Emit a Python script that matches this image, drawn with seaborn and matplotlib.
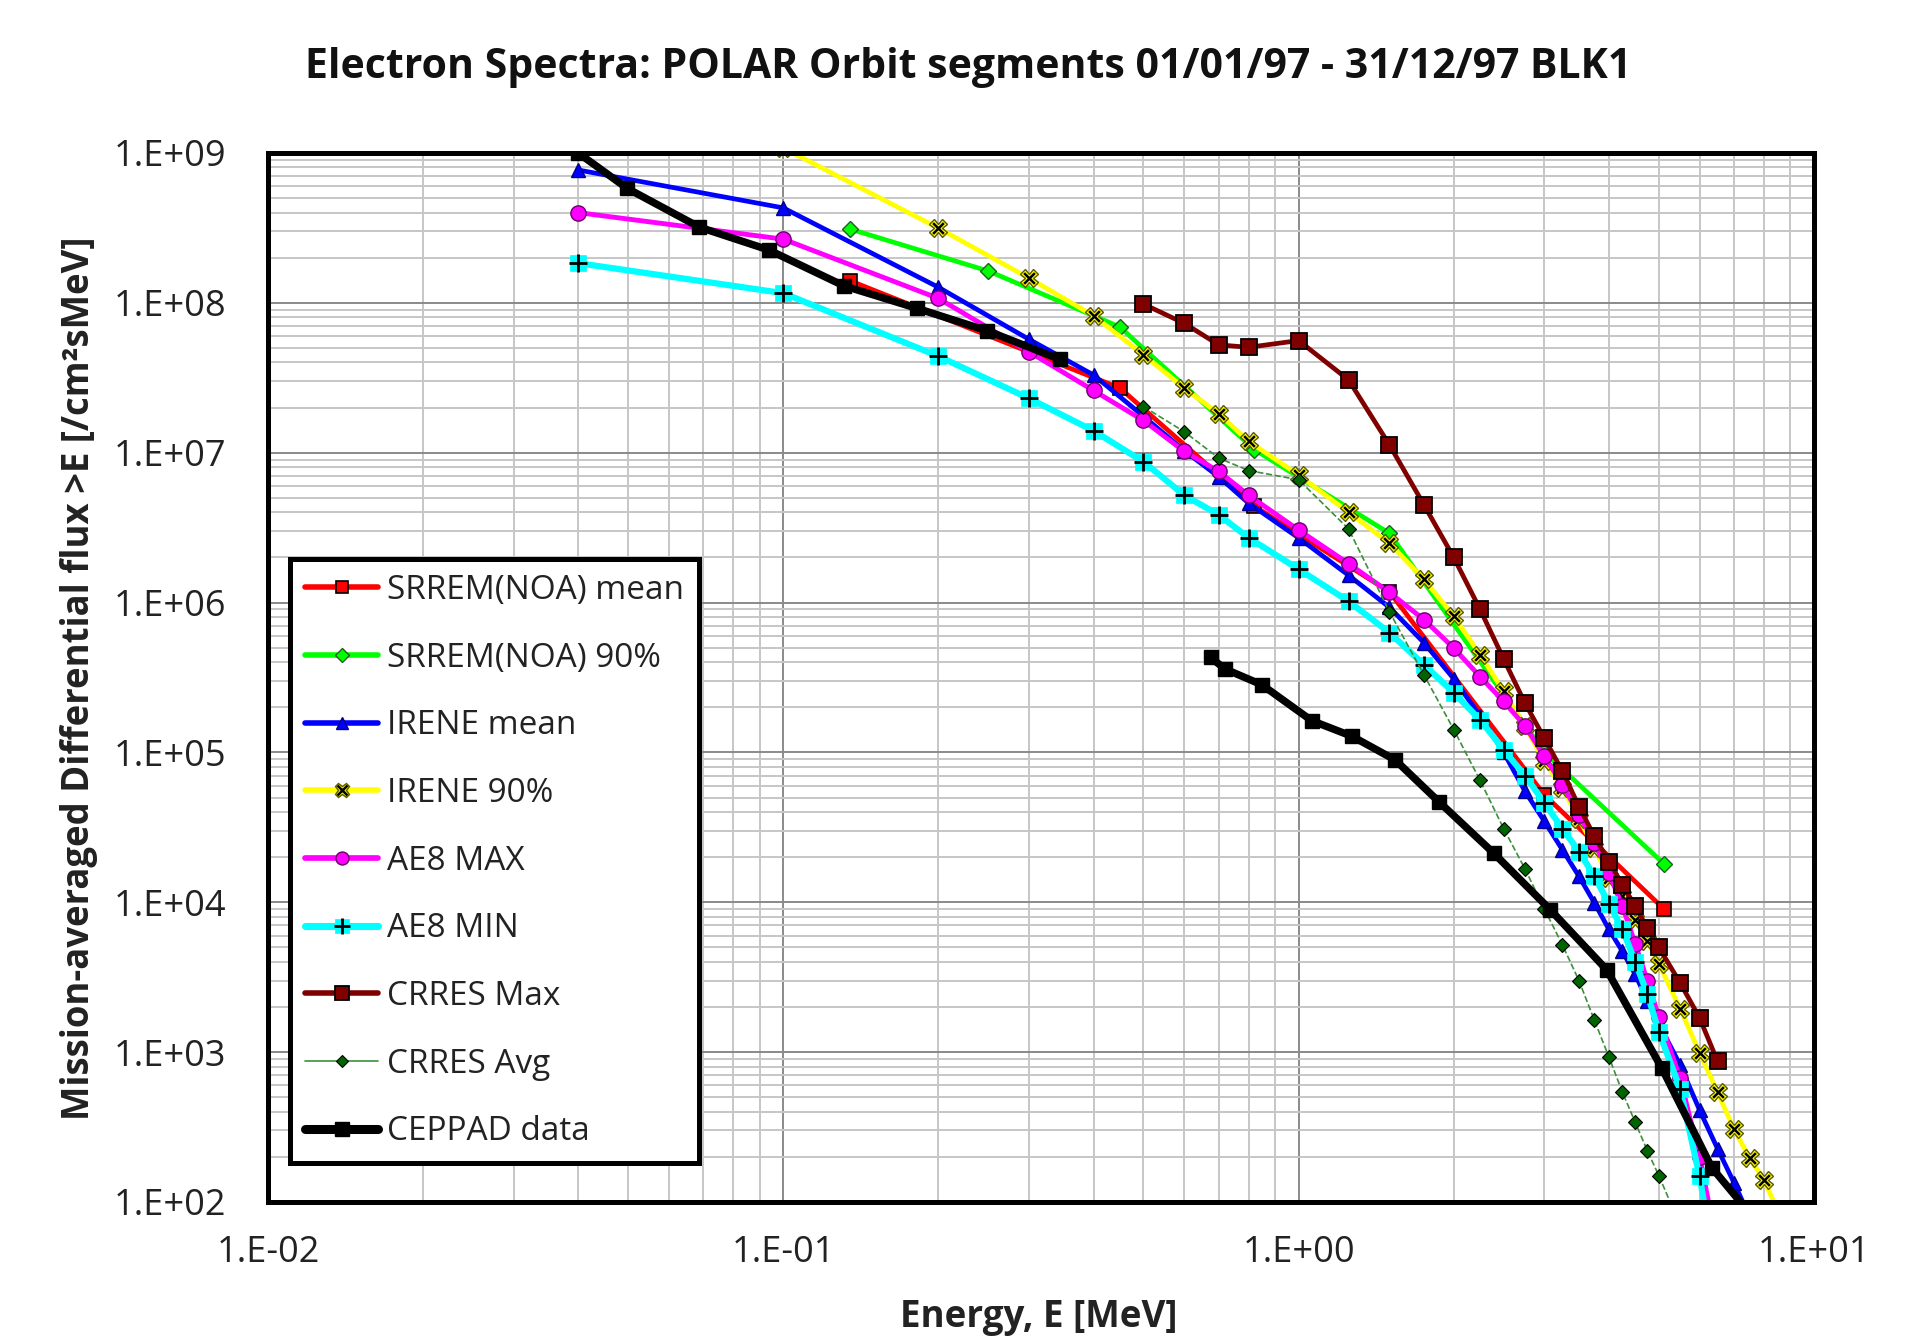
import numpy as np
import matplotlib
matplotlib.use("Agg")
import matplotlib.pyplot as plt
import seaborn as sns
from matplotlib.lines import Line2D
from matplotlib.ticker import LogLocator, FuncFormatter, NullFormatter

# ---------------- data ----------------
title = "Electron Spectra: POLAR Orbit segments 01/01/97 - 31/12/97 BLK1"
xlabel = "Energy, E [MeV]"
ylabel = "Mission-averaged Differential flux >E [/cm\u00b2sMeV]"

labels = ["SRREM(NOA) mean", "SRREM(NOA) 90%", "IRENE mean", "IRENE 90%",
          "AE8 MAX", "AE8 MIN", "CRRES Max", "CRRES Avg", "CEPPAD data"]

srrem_mean_E = [0.135, 0.45, 0.82, 1.5, 3.0, 5.12]
srrem_mean_F = [1.4e8, 2.7e7, 4.4e6, 1.18e6, 5.2e4, 9.0e3]

srrem_90_E = [0.135, 0.25, 0.45, 0.82, 1.5, 3.0, 5.12]
srrem_90_F = [3.1e8, 1.63e8, 6.9e7, 1.05e7, 2.9e6, 1.0e5, 1.8e4]

irene_mean_E = [0.04, 0.1, 0.2, 0.3, 0.4, 0.5, 0.6, 0.7, 0.8, 1.0, 1.25, 1.5, 1.75,
                2.0, 2.25, 2.5, 2.75, 3.0, 3.25, 3.5, 3.75, 4.0, 4.25, 4.5, 4.75,
                5.0, 5.5, 6.0, 6.5, 7.0, 7.5]
irene_mean_F = [7.7e8, 4.3e8, 1.27e8, 5.7e7, 3.3e7, 1.75e7, 1.03e7, 6.9e6, 4.6e6,
                2.7e6, 1.52e6, 9.3e5, 5.4e5, 3.1e5, 1.75e5, 1.0e5, 5.5e4, 3.46e4,
                2.24e4, 1.49e4, 9.9e3, 6.6e3, 4.7e3, 3.3e3, 2.2e3, 1.55e3, 8.2e2,
                4.1e2, 2.27e2, 1.34e2, 8.0e1]

irene_90_E = [0.1, 0.2, 0.3, 0.4, 0.5, 0.6, 0.7, 0.8, 1.0, 1.25, 1.5, 1.75, 2.0,
              2.25, 2.5, 2.75, 3.0, 3.25, 3.5, 3.75, 4.0, 4.25, 4.5, 4.75, 5.0,
              5.5, 6.0, 6.5, 7.0, 7.5, 8.0, 8.5]
irene_90_F = [1.08e9, 3.15e8, 1.46e8, 8.2e7, 4.5e7, 2.7e7, 1.82e7, 1.19e7, 7.1e6,
              4.0e6, 2.49e6, 1.43e6, 8.1e5, 4.5e5, 2.55e5, 1.49e5, 8.7e4, 5.8e4,
              3.6e4, 2.3e4, 1.45e4, 1.1e4, 7.6e3, 5.5e3, 3.9e3, 1.95e3, 9.9e2,
              5.4e2, 3.05e2, 1.97e2, 1.4e2, 8.8e1]

ae8_max_E = [0.04, 0.1, 0.2, 0.3, 0.4, 0.5, 0.6, 0.7, 0.8, 1.0, 1.25, 1.5, 1.75,
             2.0, 2.25, 2.5, 2.75, 3.0, 3.25, 3.5, 3.75, 4.0, 4.25, 4.5, 4.75,
             5.0, 5.5, 6.0, 6.5]
ae8_max_F = [4.0e8, 2.66e8, 1.07e8, 4.7e7, 2.6e7, 1.64e7, 1.02e7, 7.5e6, 5.2e6,
             3.05e6, 1.82e6, 1.17e6, 7.7e5, 4.97e5, 3.2e5, 2.19e5, 1.5e5, 9.4e4,
             6.1e4, 3.85e4, 2.5e4, 1.57e4, 9.4e3, 5.3e3, 3.0e3, 1.72e3, 6.7e2,
             2.0e2, 5.0e1]

ae8_min_E = [0.04, 0.1, 0.2, 0.3, 0.4, 0.5, 0.6, 0.7, 0.8, 1.0, 1.25, 1.5, 1.75,
             2.0, 2.25, 2.5, 2.75, 3.0, 3.25, 3.5, 3.75, 4.0, 4.25, 4.5, 4.75,
             5.0, 5.5, 6.0, 6.5]
ae8_min_F = [1.84e8, 1.16e8, 4.4e7, 2.3e7, 1.4e7, 8.7e6, 5.2e6, 3.85e6, 2.7e6,
             1.67e6, 1.02e6, 6.3e5, 3.85e5, 2.5e5, 1.65e5, 1.04e5, 7.0e4, 4.6e4,
             3.1e4, 2.18e4, 1.49e4, 9.8e3, 6.6e3, 4.0e3, 2.45e3, 1.37e3, 5.7e2,
             1.48e2, 3.0e1]

crres_max_E = [0.5, 0.6, 0.7, 0.8, 1.0, 1.25, 1.5, 1.75, 2.0, 2.25, 2.5, 2.75,
               3.0, 3.25, 3.5, 3.75, 4.0, 4.25, 4.5, 4.75, 5.0, 5.5, 6.0, 6.5]
crres_max_F = [9.8e7, 7.3e7, 5.24e7, 5.05e7, 5.6e7, 3.06e7, 1.13e7, 4.5e6, 2.0e6,
               9.0e5, 4.2e5, 2.13e5, 1.24e5, 7.5e4, 4.35e4, 2.75e4, 1.87e4,
               1.31e4, 9.4e3, 6.7e3, 5.0e3, 2.9e3, 1.69e3, 8.7e2]

crres_avg_E = [0.5, 0.6, 0.7, 0.8, 1.0, 1.25, 1.5, 1.75, 2.0, 2.25, 2.5, 2.75,
               3.0, 3.25, 3.5, 3.75, 4.0, 4.25, 4.5, 4.75, 5.0, 5.5]
crres_avg_F = [2.03e7, 1.38e7, 9.2e6, 7.6e6, 6.6e6, 3.1e6, 8.7e5, 3.3e5, 1.42e5,
               6.5e4, 3.1e4, 1.67e4, 9.0e3, 5.2e3, 3.0e3, 1.63e3, 9.3e2, 5.4e2,
               3.4e2, 2.2e2, 1.5e2, 7.0e1]

ceppad_low_E = [0.04, 0.0498, 0.0687, 0.0938, 0.131, 0.1815, 0.249, 0.344]
ceppad_low_F = [1.0e9, 5.8e8, 3.2e8, 2.25e8, 1.3e8, 9.2e7, 6.5e7, 4.2e7]
ceppad_high_E = [0.675, 0.72, 0.848, 1.06, 1.27, 1.54, 1.87, 2.39, 3.08, 3.96,
                 5.07, 6.34, 7.6]
ceppad_high_F = [4.3e5, 3.6e5, 2.83e5, 1.63e5, 1.28e5, 8.9e4, 4.7e4, 2.13e4,
                 8.9e3, 3.55e3, 7.8e2, 1.69e2, 8.0e1]

# ---------------- styling ----------------
sns.set_theme(style="white")
plt.rcParams['font.family'] = ['Open Sans', 'DejaVu Sans']

fig = plt.figure(figsize=(19.10, 13.43), dpi=100)
ax = fig.add_axes([0.1403, 0.105, 0.8094, 0.7811])

series = [
    # E, F, line color, lw, ls, marker, ms, mfc, mec, mew, overlay
    (srrem_mean_E, srrem_mean_F, "#FF0000", 3.4, "-", "s", 10.5, "#FF0000", "black", 1.2, None),
    (srrem_90_E, srrem_90_F, "#00FF00", 3.4, "-", "D", 8.5, "#00FF00", "#1f5f1f", 1.0, None),
    (irene_mean_E, irene_mean_F, "#0000FF", 3.4, "-", "^", 10.5, "#0000FF", "#00008b", 1.0, None),
    (irene_90_E, irene_90_F, "#FFFF00", 3.4, "-", "X", 12.5, "#FFFF00", "#5a5a00", 1.0, ("x", 60, 1.8)),
    (ae8_max_E, ae8_max_F, "#FF00FF", 3.5, "-", "o", 11, "#FF00FF", "#6a006a", 1.0, None),
    (ae8_min_E, ae8_min_F, "#00FFFF", 4.5, "-", "s", 11.5, "#00FFFF", "#00FFFF", 0.5, ("+", 180, 2.0)),
    (crres_max_E, crres_max_F, "#800000", 3.4, "-", "s", 11.5, "#800000", "black", 1.3, None),
    (crres_avg_E, crres_avg_F, "#3c8f3c", 1.2, "--", "D", 7.5, "#006400", "black", 0.8, None),
]

handles = []
z = 10
for (E, F, col, lw, ls, mk, ms, mfc, mec, mew, ov) in series:
    sns.lineplot(x=E, y=F, ax=ax, color=col, linewidth=lw, linestyle=ls,
                 marker=mk, markersize=ms, markerfacecolor=mfc,
                 markeredgecolor=mec, markeredgewidth=mew,
                 estimator=None, sort=False, legend=False, zorder=z)
    hl = Line2D([], [], color=col, linewidth=(lw + 0.6) if ls == "-" else 1.2,
                linestyle="-", marker=mk, markersize=ms * 0.85,
                markerfacecolor=mfc, markeredgecolor=mec, markeredgewidth=mew)
    if ov is not None:
        om, osz, olw = ov
        sns.scatterplot(x=E, y=F, ax=ax, marker=om, color="black", s=osz,
                        linewidth=olw, legend=False, zorder=z + 0.5)
        ho = Line2D([], [], linestyle="none", marker=om, color="black",
                    markersize=np.sqrt(osz) * 0.85, markeredgewidth=olw)
        handles.append((hl, ho))
    else:
        handles.append(hl)
    z += 1

for E, F in [(ceppad_low_E, ceppad_low_F), (ceppad_high_E, ceppad_high_F)]:
    sns.lineplot(x=E, y=F, ax=ax, color="black", linewidth=5.4, marker="s",
                 markersize=10.5, markerfacecolor="black", markeredgecolor="black",
                 markeredgewidth=1, estimator=None, sort=False, legend=False,
                 zorder=z)
handles.append(Line2D([], [], color="black", linewidth=6.5, marker="s",
                      markersize=10, markerfacecolor="black", markeredgecolor="black"))

ax.set_xscale("log")
ax.set_yscale("log")
ax.set_xlim(1e-2, 1e1)
ax.set_ylim(1e2, 1e9)

ax.xaxis.set_major_locator(LogLocator(base=10, numticks=20))
ax.yaxis.set_major_locator(LogLocator(base=10, numticks=20))
ax.xaxis.set_minor_locator(LogLocator(base=10, subs=np.arange(2, 10), numticks=100))
ax.yaxis.set_minor_locator(LogLocator(base=10, subs=np.arange(2, 10), numticks=100))
fmt = FuncFormatter(lambda v, p: "1.E{:+03d}".format(int(round(np.log10(v)))))
ax.xaxis.set_major_formatter(fmt)
ax.yaxis.set_major_formatter(fmt)
ax.xaxis.set_minor_formatter(NullFormatter())
ax.yaxis.set_minor_formatter(NullFormatter())

ax.set_axisbelow(True)
ax.grid(True, which="minor", color="#c6c6c6", linewidth=1.4)
ax.grid(True, which="major", color="#8a8a8a", linewidth=1.4)
ax.tick_params(which="both", length=0)
ax.tick_params(axis="x", labelsize=26, pad=24, colors="#222222")
ax.tick_params(axis="y", labelsize=26, pad=30, colors="#222222")
for sp in ax.spines.values():
    sp.set_visible(True)
    sp.set_color("black")
    sp.set_linewidth(3.6)
    sp.set_zorder(50)
ax.set_xlabel("")
ax.set_ylabel("")

fig.text(0.507, 0.950, title, ha="center", va="center", fontsize=29.5,
         fontweight="bold", color="#111111")
fig.text(0.544, 0.019, xlabel, ha="center", va="center", fontsize=26.5,
         fontweight="bold", color="#222222")
fig.text(0.0414, 0.495, ylabel, ha="center", va="center", fontsize=26.3,
         fontweight="bold", rotation=90, color="#222222")

leg = ax.legend(handles, labels, loc="lower left",
                bbox_to_anchor=(0.0142, 0.037), borderaxespad=0,
                frameon=True, fancybox=False, edgecolor="black", framealpha=1,
                fontsize=24, labelspacing=1.04, handlelength=2.2,
                handletextpad=0.25, borderpad=0.45, numpoints=1)
leg.get_frame().set_linewidth(3.6)
leg.set_zorder(100)
for t in leg.get_texts():
    t.set_color("#222222")

fig.savefig("out.png", dpi=100)
